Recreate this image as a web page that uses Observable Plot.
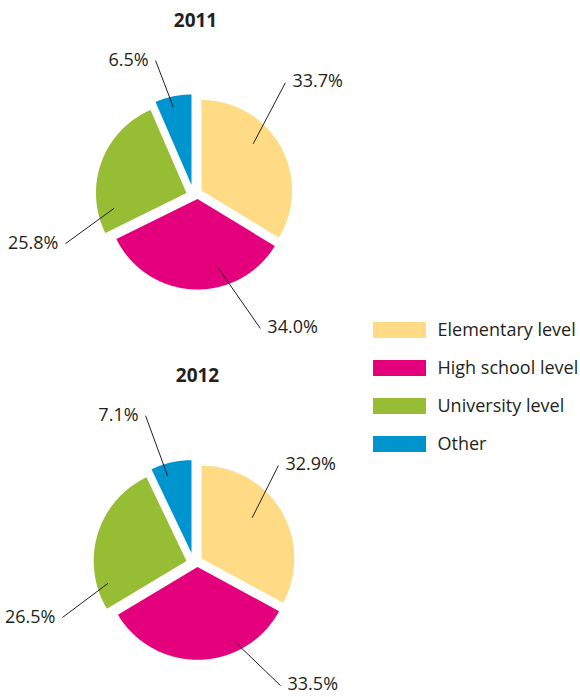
<!DOCTYPE html>
<html><head><meta charset="utf-8">
<script src="https://cdn.jsdelivr.net/npm/d3@7"></script>
<script src="https://cdn.jsdelivr.net/npm/@observablehq/plot@0.6"></script>
<style>body{margin:0;background:#fff} svg{display:block}</style>
</head><body><div id="chart"></div>
<script>
// ---- data ----
const categories = ["Elementary level", "High school level", "University level", "Other"];
const years = ["2011", "2012"];
const values2011 = [33.7, 34.0, 25.8, 6.5];
const values2012 = [32.9, 33.5, 26.5, 7.1];
const colors = ["#FEDB84", "#E4007C", "#97BD35", "#0094CF"];

// ---- layout ----
const W = 580, H = 697;
// leader lines: angle (deg, clockwise from 12 o'clock) and radius fraction, from each slice's apex
const leader2011 = [
  {a0: 47.9, f0: 0.77, a1: 37.9, f1: 1.51},
  {a0: 163.2, f0: 0.80, a1: 154.1, f1: 1.59},
  {a0: 258, f0: 0.82, a1: 247.3, f1: 1.45},
  {a0: 346.9, f0: 0.88, a1: 343.9, f1: 1.43}
];
const leader2012 = [
  {a0: 51.2, f0: 0.70, a1: 39.6, f1: 1.30},
  {a0: 153.9, f0: 0.88, a1: 145, f1: 1.56},
  {a0: 254.1, f0: 0.88, a1: 245.5, f1: 1.47},
  {a0: 342.8, f0: 0.87, a1: 341.5, f1: 1.56}
];
const pies = [
  {year: years[0], values: values2011, leader: leader2011, cx: 197, cy: 191, r: 90.5, titleX: 195, titleY: 20},
  {year: years[1], values: values2012, leader: leader2012, cx: 197, cy: 559, r: 92.8, titleX: 197, titleY: 375}
];
const explode = [[4, -1], [0, 7.5], [-11, 1.5], [-6, -6.5]];
const legend = {x1: 373, x2: 426, h: 16, y0: 330, step: 38, textX: 437};

const rad = Math.PI / 180;
const slicePts = [], links = [], labels = [];
for (const p of pies) {
  const arcs = d3.pie().sort(null)(p.values);
  arcs.forEach((a, i) => {
    const ox = p.cx + explode[i][0], oy = p.cy + explode[i][1];
    const id = p.year + "-" + i;
    slicePts.push({id, category: categories[i], x: ox, y: oy});
    const n = Math.max(2, Math.ceil((a.endAngle - a.startAngle) / 0.01));
    for (let k = 0; k <= n; k++) {
      const t = a.startAngle + (a.endAngle - a.startAngle) * k / n;
      slicePts.push({id, category: categories[i], x: ox + p.r * Math.sin(t), y: oy - p.r * Math.cos(t)});
    }
    const L = p.leader[i];
    const x1 = ox + L.f0 * p.r * Math.sin(L.a0 * rad), y1 = oy - L.f0 * p.r * Math.cos(L.a0 * rad);
    const x2 = ox + L.f1 * p.r * Math.sin(L.a1 * rad), y2 = oy - L.f1 * p.r * Math.cos(L.a1 * rad);
    links.push({x1, y1, x2, y2});
    labels.push({x: x2, y: y2, text: d3.format(".1f")(p.values[i]) + "%", side: Math.sin(L.a1 * rad) > 0 ? "right" : "left"});
  });
}
const legendRows = categories.map((c, i) => ({category: c, row: i}));

const chart = Plot.plot({
  width: W, height: H, margin: 0,
  x: {domain: [0, W], range: [0, W], axis: null},
  y: {domain: [0, H], range: [0, H], axis: null},
  color: {domain: categories, range: colors},
  style: {fontFamily: "'Open Sans', sans-serif", color: "#231f20", background: "#fff"},
  marks: [
    Plot.line(slicePts, {x: "x", y: "y", z: "id", fill: "category", stroke: "none", curve: "linear-closed"}),
    Plot.link(links, {x1: "x1", y1: "y1", x2: "x2", y2: "y2", stroke: "#231f20", strokeWidth: 1}),
    Plot.text(labels.filter(d => d.side === "right"), {x: "x", y: "y", text: "text", textAnchor: "start", dx: 7, dy: -1, fontSize: 18, fill: "#231f20"}),
    Plot.text(labels.filter(d => d.side === "left"), {x: "x", y: "y", text: "text", textAnchor: "end", dx: -7, fontSize: 18, fill: "#231f20"}),
    Plot.text(pies, {x: "titleX", y: "titleY", text: "year", fontSize: 19, fontWeight: "bold", fill: "#231f20"}),
    Plot.rect(legendRows, {x1: legend.x1, x2: legend.x2, y1: d => legend.y0 + legend.step * d.row - legend.h / 2, y2: d => legend.y0 + legend.step * d.row + legend.h / 2, fill: "category"}),
    Plot.text(legendRows, {x: legend.textX, y: d => legend.y0 + legend.step * d.row, text: "category", textAnchor: "start", fontSize: 18, fill: "#231f20"})
  ]
});
document.getElementById("chart").appendChild(chart);
</script>
</body></html>
